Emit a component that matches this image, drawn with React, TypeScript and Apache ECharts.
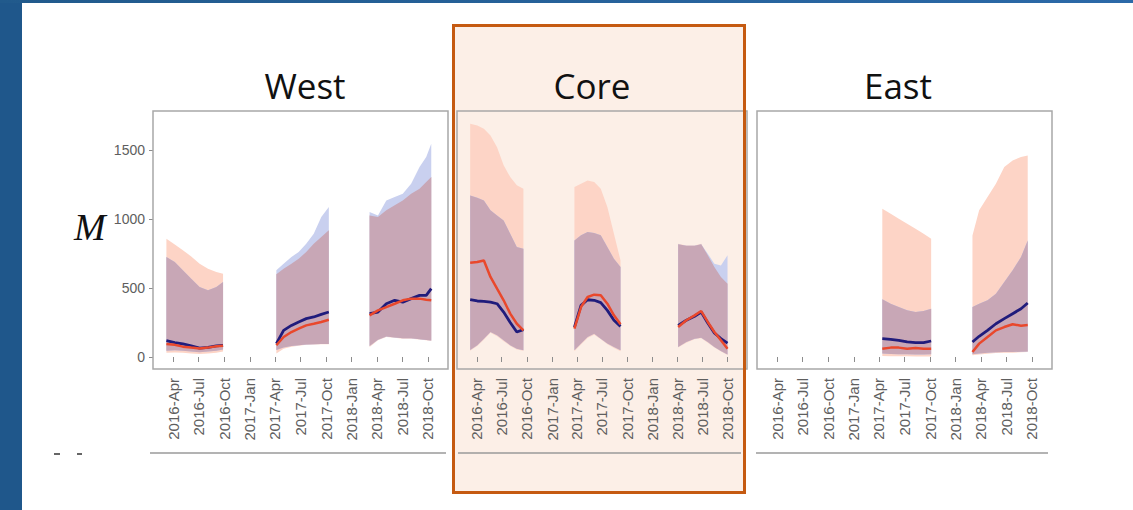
import React, { useEffect, useRef } from 'react';
import * as echarts from 'echarts';

// ---------- tick labels ----------
const tickDates = ['2016-04-01', '2016-07-01', '2016-10-01', '2017-01-01', '2017-04-01', '2017-07-01', '2017-10-01', '2018-01-01', '2018-04-01', '2018-07-01', '2018-10-01'];
const tickLabels = ['2016-Apr', '2016-Jul', '2016-Oct', '2017-Jan', '2017-Apr', '2017-Jul', '2017-Oct', '2018-Jan', '2018-Apr', '2018-Jul', '2018-Oct'];
const yTicks = [0, 500, 1000, 1500];
const panelNames = ['West', 'Core', 'East'];

// ---------- West ----------
const w1Dates = ['2016-03-08', '2016-04-07', '2016-05-06', '2016-06-05', '2016-07-05', '2016-08-04', '2016-09-03', '2016-09-27'];
const w1OrangeHi = [857, 816, 773, 729, 676, 640, 616, 604];
const w1BlueHi = [725, 688, 628, 567, 507, 483, 507, 543];
const w1OrangeLo = [30, 32, 30, 25, 22, 25, 30, 40];
const w1BlueLo = [45, 48, 45, 40, 35, 40, 45, 55];
const w1Navy = [118, 105, 95, 80, 65, 70, 80, 85];
const w1Red = [95, 88, 75, 68, 62, 68, 78, 82];

const w2Dates = ['2017-04-06', '2017-05-02', '2017-05-30', '2017-06-25', '2017-07-22', '2017-08-18', '2017-09-14', '2017-10-11'];
const w2BlueHi = [628, 676, 725, 761, 821, 894, 1014, 1087];
const w2OrangeHi = [599, 640, 676, 712, 761, 821, 869, 918];
const w2OrangeLo = [25, 60, 75, 82, 88, 90, 92, 92];
const w2BlueLo = [50, 68, 80, 85, 90, 92, 95, 95];
const w2Navy = [97, 193, 229, 254, 278, 290, 309, 326];
const w2Red = [85, 145, 181, 205, 229, 241, 254, 270];

const w3Dates = ['2018-03-06', '2018-04-05', '2018-05-05', '2018-06-04', '2018-07-03', '2018-08-02', '2018-09-01', '2018-09-25', '2018-10-13'];
const w3BlueHi = [1051, 1026, 1135, 1159, 1183, 1256, 1377, 1449, 1546];
const w3OrangeHi = [1026, 1014, 1063, 1099, 1135, 1183, 1220, 1268, 1304];
const w3OrangeLo = [72, 121, 145, 140, 133, 133, 126, 121, 116];
const w3BlueLo = [80, 125, 148, 142, 136, 135, 128, 124, 120];
const w3Navy = [314, 326, 386, 411, 398, 423, 447, 447, 495];
const w3Red = [302, 338, 362, 386, 411, 423, 423, 415, 411];

// ---------- Core ----------
const c1Dates = ['2016-03-08', '2016-04-03', '2016-04-27', '2016-05-21', '2016-06-14', '2016-07-08', '2016-08-01', '2016-08-25', '2016-09-18'];
const c1OrangeHi = [1690, 1678, 1654, 1606, 1521, 1389, 1304, 1244, 1220];
const c1BlueHi = [1171, 1154, 1135, 1063, 1026, 990, 894, 797, 785];
const c1OrangeLo = [45, 80, 125, 175, 150, 115, 80, 55, 45];
const c1BlueLo = [50, 85, 133, 181, 157, 121, 85, 60, 48];
const c1Navy = [415, 406, 403, 398, 386, 326, 250, 181, 198];
const c1Red = [683, 688, 700, 580, 495, 411, 314, 241, 193];

const c2Dates = ['2017-03-23', '2017-04-16', '2017-05-10', '2017-06-03', '2017-06-27', '2017-07-21', '2017-08-14', '2017-09-07'];
const c2OrangeHi = [1232, 1256, 1280, 1268, 1220, 1087, 894, 700];
const c2BlueHi = [845, 882, 906, 898, 882, 797, 712, 652];
const c2OrangeLo = [42, 90, 138, 162, 128, 92, 66, 42];
const c2BlueLo = [48, 97, 145, 169, 133, 97, 72, 48];
const c2Navy = [217, 374, 415, 411, 394, 338, 266, 222];
const c2Red = [205, 362, 435, 452, 447, 386, 302, 237];

const c3Dates = ['2018-04-05', '2018-05-05', '2018-06-04', '2018-06-28', '2018-07-22', '2018-08-15', '2018-09-08', '2018-10-02'];
const c3OrangeHi = [821, 809, 809, 821, 737, 652, 580, 531];
const c3BlueHi = [818, 806, 806, 818, 749, 676, 664, 737];
const c3OrangeLo = [68, 104, 128, 136, 104, 68, 40, 15];
const c3BlueLo = [72, 109, 133, 140, 109, 72, 43, 19];
const c3Navy = [229, 266, 295, 326, 246, 174, 133, 101];
const c3Red = [217, 266, 302, 333, 254, 181, 121, 60];

// ---------- East ----------
const e1Dates = ['2017-04-13', '2017-05-13', '2017-06-11', '2017-07-11', '2017-08-10', '2017-09-08', '2017-10-05'];
const e1OrangeHi = [1075, 1038, 1002, 966, 930, 894, 857];
const e1BlueHi = [418, 386, 362, 338, 326, 333, 350];
const e1OrangeLo = [8, 6, 5, 5, 4, 3, 3];
const e1BlueLo = [25, 22, 20, 20, 18, 18, 20];
const e1Navy = [133, 128, 121, 109, 104, 104, 116];
const e1Red = [60, 68, 68, 60, 65, 60, 60];

const e2Dates = ['2018-03-02', '2018-03-26', '2018-04-25', '2018-05-25', '2018-06-24', '2018-07-24', '2018-08-23', '2018-09-16'];
const e2OrangeHi = [881, 1063, 1159, 1256, 1377, 1425, 1449, 1461];
const e2BlueHi = [362, 386, 411, 459, 543, 628, 725, 845];
const e2OrangeLo = [12, 19, 24, 29, 31, 31, 34, 36];
const e2BlueLo = [20, 26, 30, 34, 36, 36, 38, 40];
const e2Navy = [109, 150, 193, 241, 278, 314, 350, 391];
const e2Red = [36, 97, 145, 193, 217, 237, 227, 232];

const segments = [
  { panel: 0, dates: w1Dates, oLo: w1OrangeLo, oHi: w1OrangeHi, bLo: w1BlueLo, bHi: w1BlueHi, navy: w1Navy, red: w1Red },
  { panel: 0, dates: w2Dates, oLo: w2OrangeLo, oHi: w2OrangeHi, bLo: w2BlueLo, bHi: w2BlueHi, navy: w2Navy, red: w2Red },
  { panel: 0, dates: w3Dates, oLo: w3OrangeLo, oHi: w3OrangeHi, bLo: w3BlueLo, bHi: w3BlueHi, navy: w3Navy, red: w3Red },
  { panel: 1, dates: c1Dates, oLo: c1OrangeLo, oHi: c1OrangeHi, bLo: c1BlueLo, bHi: c1BlueHi, navy: c1Navy, red: c1Red },
  { panel: 1, dates: c2Dates, oLo: c2OrangeLo, oHi: c2OrangeHi, bLo: c2BlueLo, bHi: c2BlueHi, navy: c2Navy, red: c2Red },
  { panel: 1, dates: c3Dates, oLo: c3OrangeLo, oHi: c3OrangeHi, bLo: c3BlueLo, bHi: c3BlueHi, navy: c3Navy, red: c3Red },
  { panel: 2, dates: e1Dates, oLo: e1OrangeLo, oHi: e1OrangeHi, bLo: e1BlueLo, bHi: e1BlueHi, navy: e1Navy, red: e1Red },
  { panel: 2, dates: e2Dates, oLo: e2OrangeLo, oHi: e2OrangeHi, bLo: e2BlueLo, bHi: e2BlueHi, navy: e2Navy, red: e2Red },
];

const ORANGE_BAND = '#fdd4c6';
const BLUE_BAND = '#c9d0ef';
const BOTH_BAND = '#c8a7b6';
const NAVY = '#201c7c';
const RED = '#e9482c';

const toTime = (d: string) => new Date(d + 'T00:00:00Z').getTime();
const tickTimes = tickDates.map(toTime);

function buildSeries() {
  const out: any[] = [];
  segments.forEach((s) => {
    const times = s.dates.map(toTime);
    const idx = times.map((_, i) => i);
    const bothLo = idx.map(i => Math.max(s.oLo[i], s.bLo[i]));
    const bothHi = idx.map(i => Math.min(s.oHi[i], s.bHi[i]));
    out.push({
      type: 'custom',
      xAxisIndex: s.panel,
      yAxisIndex: s.panel,
      silent: true,
      z: 1,
      data: [[times[0], s.oLo[0]]],
      renderItem: (_params: any, api: any) => {
        const poly = (hi: number[], lo: number[]) => {
          const top = idx.map(i => api.coord([times[i], hi[i]]));
          const bot = idx.slice().reverse().map(i => api.coord([times[i], lo[i]]));
          return top.concat(bot);
        };
        return {
          type: 'group',
          children: [
            { type: 'polygon', shape: { points: poly(s.oHi, s.oLo) }, style: { fill: ORANGE_BAND } },
            { type: 'polygon', shape: { points: poly(s.bHi, s.bLo) }, style: { fill: BLUE_BAND } },
            { type: 'polygon', shape: { points: poly(bothHi, bothLo) }, style: { fill: BOTH_BAND } },
          ],
        };
      },
    });
    out.push({
      type: 'line', xAxisIndex: s.panel, yAxisIndex: s.panel, silent: true, symbol: 'none', z: 3,
      lineStyle: { color: NAVY, width: 2.8 },
      data: idx.map(i => [times[i], s.navy[i]]),
    });
    out.push({
      type: 'line', xAxisIndex: s.panel, yAxisIndex: s.panel, silent: true, symbol: 'none', z: 4,
      lineStyle: { color: RED, width: 2.5 },
      data: idx.map(i => [times[i], s.red[i]]),
    });
  });
  return out;
}

const gridLefts = [153, 457, 757];
const gridWidths = [295, 290, 295];
const titleX = [305, 592, 898];

export default function App() {
  const ref = useRef<HTMLDivElement>(null);
  useEffect(() => {
    if (!ref.current) return;
    const chart = echarts.init(ref.current, undefined, { renderer: 'svg' });
    const grids = panelNames.map((_, i) => ({
      left: gridLefts[i], top: 111, width: gridWidths[i], height: 258,
      show: true, borderColor: '#a8a8a8', borderWidth: 1.5, backgroundColor: 'transparent', z: 2,
    }));
    const xAxes = panelNames.map((_, i) => ({
      type: 'value', gridIndex: i,
      min: toTime('2016-01-20'), max: toTime('2018-12-12'),
      axisLine: { show: false },
      splitLine: { show: false },
      axisTick: { show: true, customValues: tickTimes, length: 5, lineStyle: { color: '#8c8c8c', width: 1 } },
      axisLabel: {
        customValues: tickTimes, rotate: 90, margin: 9, fontSize: 15, color: '#5e5e5e',
        fontFamily: 'Liberation Sans', hideOverlap: false,
        formatter: (v: number) => {
          const k = tickTimes.indexOf(v);
          return k >= 0 ? tickLabels[k] : '';
        },
      },
    }));
    const yAxes = panelNames.map((_, i) => ({
      type: 'value', gridIndex: i, min: -87, max: 1783,
      axisLine: { show: false },
      splitLine: { show: false },
      axisTick: { show: i === 0, customValues: yTicks, length: 4, lineStyle: { color: '#8c8c8c', width: 1 } },
      axisLabel: {
        show: i === 0, customValues: yTicks, margin: 8, fontSize: 14, color: '#5e5e5e', fontFamily: 'Liberation Sans',
        formatter: (v: number) => String(v),
      },
    }));
    const graphic: any[] = [
      { type: 'rect', z: -10, silent: true, shape: { x: 0, y: 0, width: 22, height: 510 }, style: { fill: '#1f578b' } },
      {
        type: 'rect', z: -10, silent: true, shape: { x: 0, y: 0, width: 1133, height: 3 },
        style: { fill: new echarts.graphic.LinearGradient(0, 0, 1, 0, [{ offset: 0, color: '#215a8c' }, { offset: 1, color: '#2b69a8' }]) },
      },
      { type: 'rect', z: -10, silent: true, shape: { x: 453.5, y: 25.5, width: 291, height: 467 }, style: { fill: '#fcefe7' } },
      { type: 'rect', z: 50, silent: true, shape: { x: 453.5, y: 25.5, width: 291, height: 467 }, style: { fill: 'none', stroke: '#c55a11', lineWidth: 3 } },
      ...panelNames.map((t, i) => ({
        type: 'text', z: 60, x: titleX[i], y: 85, silent: true,
        style: { text: t, fontSize: 35, fontFamily: 'Open Sans', fill: '#111111', align: 'center', verticalAlign: 'middle' },
      })),
      {
        type: 'text', z: 60, x: 74, y: 227, silent: true,
        style: { text: 'M', fontSize: 38, fontStyle: 'italic', fontFamily: 'Liberation Serif', fill: '#111111', align: 'left', verticalAlign: 'middle' },
      },
      { type: 'line', z: 60, silent: true, shape: { x1: 150, y1: 453, x2: 446, y2: 453 }, style: { stroke: '#9a9a9a', lineWidth: 1.5 } },
      { type: 'line', z: 60, silent: true, shape: { x1: 458, y1: 453, x2: 741, y2: 453 }, style: { stroke: '#9a9a9a', lineWidth: 1.5 } },
      { type: 'line', z: 60, silent: true, shape: { x1: 756, y1: 453, x2: 1048, y2: 453 }, style: { stroke: '#9a9a9a', lineWidth: 1.5 } },
      { type: 'line', z: 60, silent: true, shape: { x1: 54, y1: 454, x2: 60, y2: 454 }, style: { stroke: '#333333', lineWidth: 1.5 } },
      { type: 'line', z: 60, silent: true, shape: { x1: 77, y1: 454, x2: 82, y2: 454 }, style: { stroke: '#333333', lineWidth: 1.5 } },
    ];
    chart.setOption({
      animation: false,
      backgroundColor: '#ffffff',
      grid: grids,
      xAxis: xAxes,
      yAxis: yAxes,
      graphic,
      series: buildSeries(),
    });
    return () => chart.dispose();
  }, []);
  return <div ref={ref} style={{ position: 'absolute', left: 0, top: 0, width: 1133, height: 510 }} />;
}
